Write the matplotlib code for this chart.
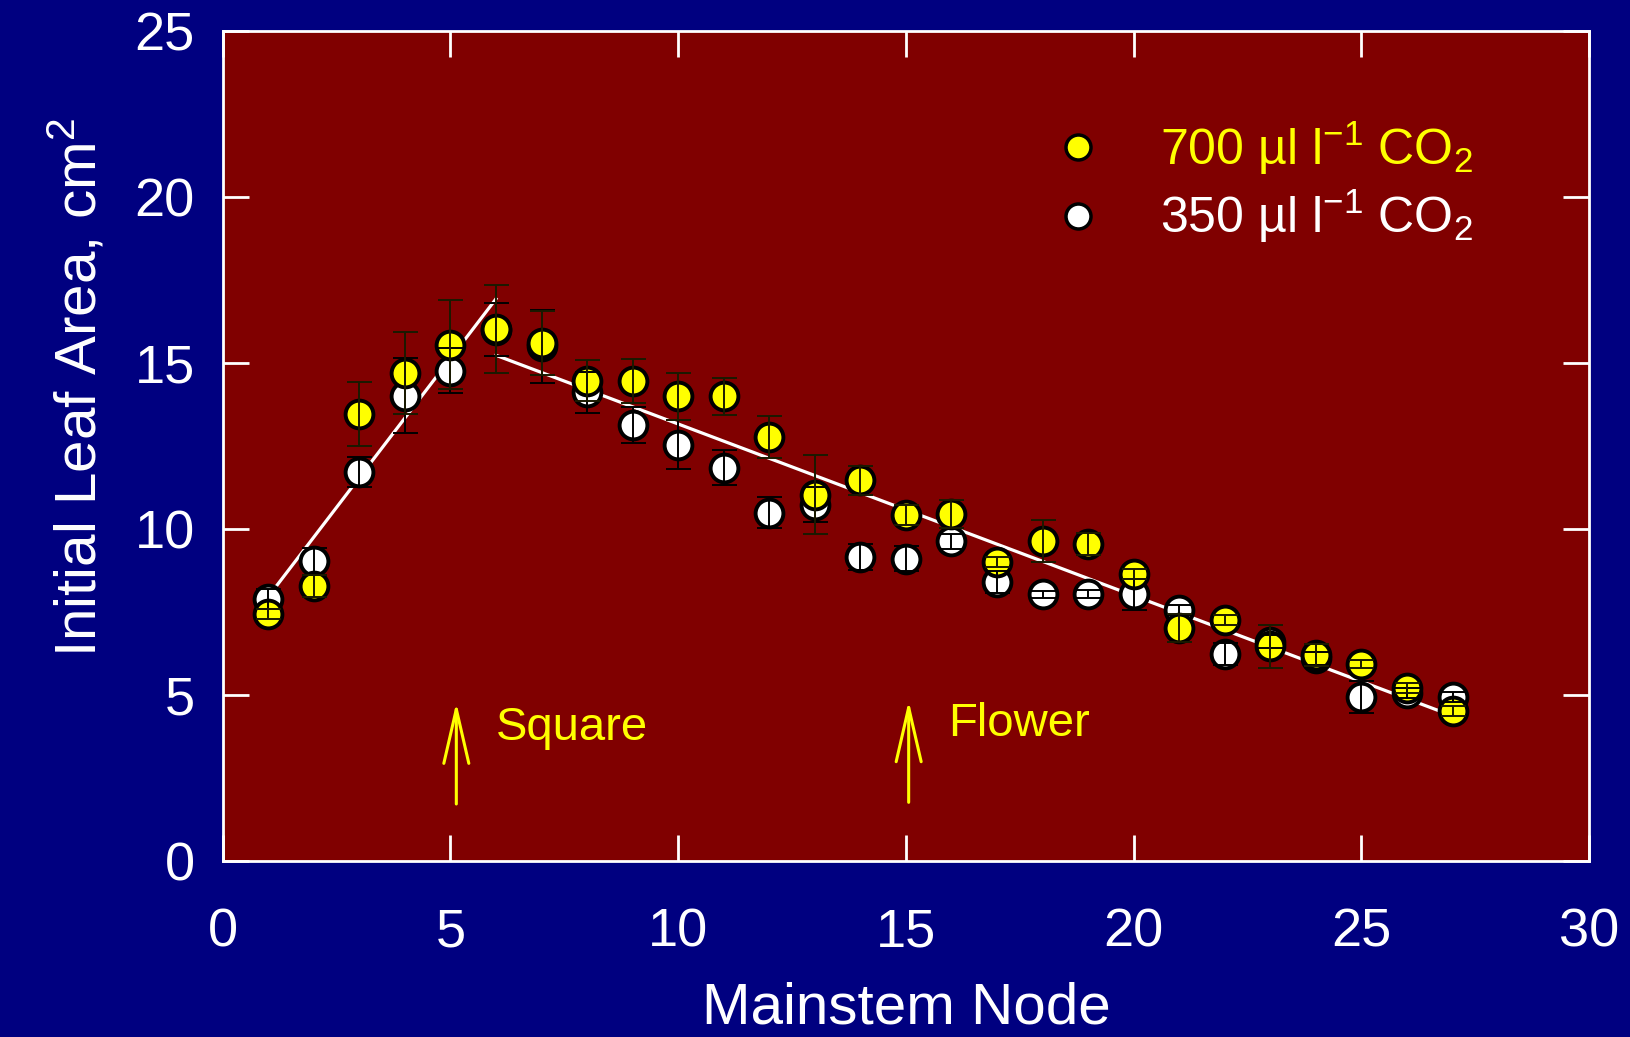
import numpy as np
import matplotlib.pyplot as plt
from matplotlib.lines import Line2D

plt.rcParams['font.family'] = ['Liberation Sans', 'DejaVu Sans']
plt.rcParams['mathtext.fontset'] = 'custom'
plt.rcParams['mathtext.rm'] = 'Liberation Sans'
plt.rcParams['mathtext.it'] = 'Liberation Sans'

# Initial leaf area by mainstem node, two CO2 levels
nodes = np.arange(1, 28)

area_700 = [7.44, 8.27, 13.46, 14.70, 15.55, 16.02, 15.60, 14.47, 14.45, 13.99,
            13.99, 12.77, 11.03, 11.46, 10.41, 10.45, 8.99, 9.63, 9.53, 8.64,
            7.02, 7.24, 6.46, 6.20, 5.92, 5.21, 4.51]
err_700 = [0.15, 0.33, 0.96, 1.23, 1.34, 1.33, 0.97, 0.63, 0.67, 0.72,
           0.56, 0.63, 1.19, 0.43, 0.31, 0.42, 0.15, 0.64, 0.33, 0.15,
           0.42, 0.15, 0.65, 0.33, 0.12, 0.15, 0.15]

area_350 = [7.87, 9.02, 11.70, 14.01, 14.77, 16.00, 15.50, 14.12, 13.14, 12.54,
            11.84, 10.48, 10.73, 9.15, 9.10, 9.62, 8.40, 8.02, 8.04, 8.02,
            7.55, 6.23, 6.60, 6.10, 4.93, 5.04, 4.94]
err_350 = [0.30, 0.40, 0.45, 1.13, 0.69, 0.80, 1.10, 0.62, 0.54, 0.74,
           0.53, 0.47, 0.52, 0.39, 0.37, 0.22, 0.33, 0.10, 0.12, 0.47,
           0.15, 0.34, 0.20, 0.20, 0.47, 0.15, 0.15]

# fitted segments (rising, then declining)
fit1_x = [1, 6]
fit1_y = [7.95, 16.93]
fit2_x = [6, 27]
fit2_y = [15.23, 4.36]

navy = '#000080'
maroon = '#800000'

fig = plt.figure(figsize=(16.31, 10.37), dpi=100, facecolor=navy)
ax = fig.add_axes([0.1365, 0.1702, 0.8379, 0.7997])
ax.set_facecolor(maroon)

ax.plot(fit1_x, fit1_y, color='white', lw=2.3, zorder=2)
ax.plot(fit2_x, fit2_y, color='white', lw=2.3, zorder=2)

ms = 20
mew = 2.8
h350, = ax.plot(nodes, area_350, 'o', ms=ms, mfc='white', mec='black', mew=mew,
                zorder=3, label=r'350 µl l$^{-1}$ CO$_2$')
h700, = ax.plot(nodes, area_700, 'o', ms=ms, mfc='yellow', mec='black', mew=mew,
                zorder=4, label=r'700 µl l$^{-1}$ CO$_2$')

# error bars sit on top of the symbols
ax.errorbar(nodes, area_350, yerr=err_350, fmt='none', ecolor='black',
            elinewidth=1.4, capsize=9, capthick=1.4, zorder=5)
ax.errorbar(nodes, area_700, yerr=err_700, fmt='none', ecolor='#1a1a00',
            elinewidth=1.4, capsize=9, capthick=1.4, zorder=5)

# developmental stage markers
arrow_style = dict(arrowstyle='->,head_length=3.9,head_width=0.9',
                   color='yellow', lw=2.2)
ax.annotate('', xy=(5.13, 4.85), xytext=(5.13, 1.62), arrowprops=arrow_style)
ax.annotate('', xy=(15.06, 4.9), xytext=(15.06, 1.67), arrowprops=arrow_style)
ax.text(6.0, 3.63, 'Square', color='yellow', fontsize=34)
ax.text(15.93, 3.74, 'Flower', color='yellow', fontsize=34)

ax.set_xlim(0, 30)
ax.set_ylim(0, 25)
ax.set_xticks(range(0, 31, 5))
ax.set_yticks(range(0, 26, 5))
ax.tick_params(direction='in', length=19, width=2, colors='white',
               labelsize=39, top=True, right=True)
ax.tick_params(axis='x', pad=34)
ax.tick_params(axis='y', pad=20)
for s in ax.spines.values():
    s.set_color('white')
    s.set_linewidth(2)

ax.set_xlabel('Mainstem Node', color='white', fontsize=42)
ax.set_ylabel(r'Initial Leaf Area, cm$^2$', color='white', fontsize=42)
ax.xaxis.set_label_coords(0.5, -0.179)
ax.xaxis.label.set_va('center')
ax.yaxis.set_label_coords(-0.106, 0.57)
ax.yaxis.label.set_va('center')

leg_700 = Line2D([], [], ls='none', marker='o', ms=18, mfc='yellow', mec='black', mew=2.5)
leg_350 = Line2D([], [], ls='none', marker='o', ms=18, mfc='white', mec='black', mew=2.5)
ax.legend([leg_700, leg_350], [h700.get_label(), h350.get_label()],
          loc='upper left', bbox_to_anchor=(0.589, 0.924), frameon=False,
          fontsize=36, labelcolor=['yellow', 'white'], handlelength=1.0,
          handletextpad=1.15, labelspacing=0.22, borderpad=0)

fig.savefig('out.png', dpi=100, facecolor=navy)
